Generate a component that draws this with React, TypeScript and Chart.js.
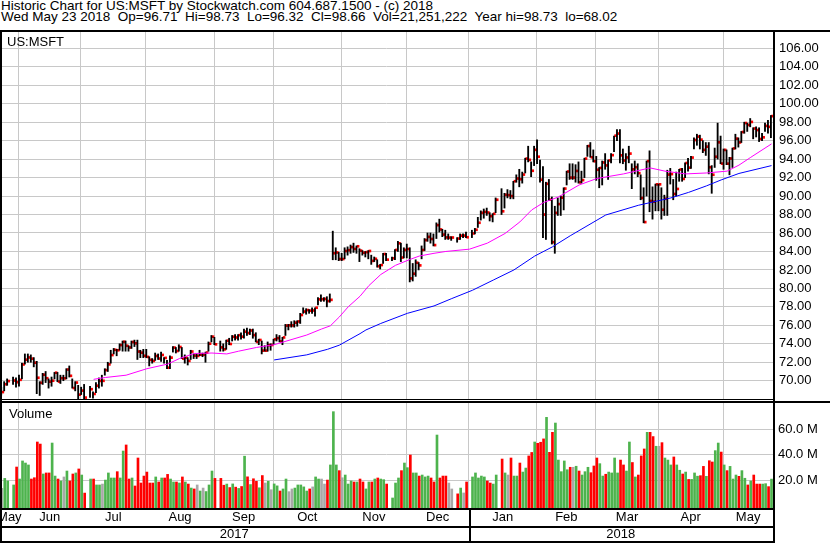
import React, { useEffect, useRef } from 'react';
import { Chart, registerables } from 'chart.js';

Chart.register(...registerables);

// ---------- data (index = weekday since Wed 24 May 2017; null = exchange holiday) ----------
const MONTH_LABELS = ['May', 'Jun', 'Jul', 'Aug', 'Sep', 'Oct', 'Nov', 'Dec', 'Jan', 'Feb', 'Mar', 'Apr', 'May'];
const MONTH_START = [6, 27, 49, 72, 92, 115, 137, 158, 181, 201, 222, 244];
const YEAR_LABELS = ['2017', '2018'];
const YEAR_START = [158];
const PRICE_TICKS = [70, 72, 74, 76, 78, 80, 82, 84, 86, 88, 90, 92, 94, 96, 98, 100, 102, 104, 106];
const VOLUME_TICKS = [20, 40, 60];

const CLOSE = [
  68.77, 69.62, 69.96, null, 70.02, 69.84,
  70.10, 71.76, 72.28, 72.52, 72.39, 71.95, 70.32, 69.78, 70.65, 70.27, 69.90, 70.00, 70.87, 69.91, 70.27, 70.26, 71.21, 70.53, 69.21, 69.80, 68.49, 68.93,
  68.17, null, 69.08, 68.57, 69.46, 69.98, 69.99, 71.15, 71.77, 72.78, 73.35, 73.30, 73.86, 74.22, 73.79, 73.60, 74.19, 74.05, 73.16, 73.04, 72.70,
  72.58, 72.26, 72.15, 72.68, 72.40, 72.79, 72.47, 71.41, 72.50, 73.59, 73.22, 73.65, 72.40, 72.49, 72.15, 73.16, 72.72, 72.69, 72.82, 72.83, 73.05, 74.01, 74.77,
  73.94, null, 73.61, 73.40, 74.34, 73.98, 74.76, 74.68, 74.93, 74.77, 75.31, 75.16, 75.44, 74.94, 74.21, 74.41, 73.26, 73.26, 73.85, 73.87, 74.49,
  74.61, 74.26, 74.69, 75.97, 76.00, 75.99, 76.29, 76.42, 77.12, 77.49, 77.65, 77.59, 77.61, 77.91, 78.81, 78.83, 78.86, 78.63, 78.76, 83.81, 83.89, 83.18,
  83.18, 84.05, 84.14, 84.47, 84.27, 84.56, 84.09, 83.87, 83.93, 84.05, 82.98, 83.20, 82.40, 82.53, 83.72, 83.11, null, 83.26, 84.17, 84.88, 83.34, 84.17,
  84.26, 81.08, 81.59, 82.78, 82.49, 84.16, 85.23, 85.58, 85.35, 84.69, 86.85, 86.38, 85.83, 85.52, 85.50, 85.51, null, 85.40, 85.71, 85.72, 85.54,
  null, 85.95, 86.35, 87.11, 88.19, 88.28, 88.22, 87.82, 88.08, 89.60, null, 88.35, 90.14, 90.10, 90.00, 91.61, 91.90, 91.82, 92.33, 94.06, 93.92, 92.74, 95.01,
  94.26, 91.78, 88.00, 91.33, 89.61, 85.01, 88.18, 89.13, 89.83, 90.81, 92.66, 92.00, 92.00, 92.72, 91.49, 91.73, 94.06, 95.42, 94.20, 93.77,
  92.85, 93.05, 93.64, 93.32, 93.86, 94.43, 96.54, 96.77, 94.41, 93.85, 94.18, 94.60, 92.89, 93.13, 92.48, 89.79, 87.18, 93.78, 89.47, 89.39, 91.27, 91.27,
  88.52, 89.71, 92.33, 92.38, 90.23, 90.77, 92.88, 91.86, 93.58, 93.08, 94.17, 96.07, 96.44, 96.11, 95.00, 95.35, 93.12, 92.31, 94.26, 95.82, 93.52,
  95.00, 93.51, 94.07, 95.16, 96.22, 95.81, 96.94, 97.91, 97.70, 98.03, 97.32, 97.15, 96.18, 96.36, 97.60, 97.50, 98.66,
];

const HIGH = [
  69.30, 69.90, 70.20, null, 70.40, 70.30,
  70.60, 71.90, 72.90, 72.90, 72.80, 72.50, 72.10, 69.90, 70.80, 71.00, 70.20, 70.40, 70.90, 70.90, 70.60, 70.60, 71.30, 71.60, 70.20, 69.90, 69.50, 69.30,
  69.60, null, 69.40, 68.80, 69.80, 70.30, 70.60, 71.30, 72.00, 73.30, 73.50, 73.40, 74.00, 74.30, 74.30, 73.80, 74.30, 74.40, 74.40, 73.30, 73.40,
  73.40, 72.60, 72.40, 73.00, 72.90, 73.10, 72.50, 72.20, 72.70, 73.70, 73.60, 73.90, 73.60, 72.80, 72.50, 73.30, 72.90, 72.90, 73.30, 73.00, 73.10, 74.20, 74.90,
  74.70, null, 74.30, 74.00, 74.40, 74.60, 74.90, 75.00, 75.00, 75.20, 75.60, 75.70, 75.60, 75.60, 75.20, 74.50, 74.30, 73.80, 74.20, 74.00, 74.50,
  75.00, 74.90, 74.70, 76.10, 76.10, 76.40, 76.50, 76.50, 77.30, 77.90, 77.80, 77.70, 77.90, 77.90, 79.00, 79.30, 79.00, 79.10, 79.40, 86.20, 84.40, 83.90,
  83.80, 84.40, 84.50, 84.70, 84.90, 84.60, 84.30, 84.10, 84.00, 84.10, 83.60, 83.40, 83.10, 82.60, 83.80, 83.80, null, 83.40, 84.20, 85.10, 84.90, 84.40,
  84.80, 84.40, 82.70, 83.10, 82.80, 84.60, 85.40, 86.00, 86.00, 85.90, 87.10, 87.50, 86.40, 86.30, 85.90, 85.60, null, 85.50, 85.90, 85.90, 86.10,
  null, 86.30, 86.50, 87.70, 88.40, 88.60, 88.70, 88.20, 88.10, 89.80, null, 90.80, 90.30, 90.70, 90.60, 91.60, 92.30, 92.90, 92.60, 94.10, 95.40, 93.70, 95.40,
  96.10, 93.90, 93.20, 91.50, 91.80, 89.90, 88.90, 89.80, 90.00, 90.90, 92.70, 93.50, 93.50, 93.40, 93.70, 92.70, 94.10, 95.50, 95.80, 95.00,
  94.30, 93.10, 93.80, 94.60, 93.90, 94.60, 96.50, 97.20, 97.20, 95.10, 94.60, 95.40, 93.50, 93.80, 93.50, 92.30, 90.90, 93.80, 94.90, 91.00, 91.30, 91.30,
  90.90, 90.10, 92.80, 93.00, 91.80, 92.60, 92.90, 93.00, 93.60, 94.10, 94.30, 96.30, 96.70, 96.60, 96.00, 95.80, 95.80, 93.30, 95.20, 97.90, 96.50,
  95.10, 95.00, 94.20, 95.20, 96.70, 96.30, 97.00, 98.00, 97.90, 98.40, 97.40, 97.50, 97.40, 96.80, 97.90, 98.20, 98.73,
];

const LOW = [
  68.45, 68.90, 69.50, null, 69.60, 69.30,
  69.40, 70.20, 71.80, 72.00, 72.00, 71.50, 68.60, 68.40, 69.60, 69.80, 69.20, 69.40, 70.20, 69.90, 69.70, 70.00, 70.20, 70.40, 69.20, 68.90, 68.00, 68.50,
  68.00, null, 68.20, 68.10, 68.70, 69.20, 69.40, 70.60, 71.00, 71.90, 72.90, 72.70, 73.30, 73.20, 73.20, 73.20, 73.50, 73.70, 72.30, 72.50, 72.50,
  72.50, 71.60, 71.90, 72.20, 72.30, 72.10, 71.90, 71.30, 71.30, 73.10, 73.00, 73.20, 72.40, 71.90, 71.70, 72.30, 72.40, 72.40, 72.70, 72.60, 72.00, 73.20, 74.20,
  73.90, null, 73.20, 73.20, 73.40, 73.90, 74.30, 74.40, 74.40, 74.50, 74.60, 74.90, 75.00, 74.60, 74.20, 73.90, 72.90, 73.20, 73.20, 73.30, 73.90,
  74.30, 74.20, 73.90, 74.90, 75.50, 75.80, 75.80, 75.90, 76.20, 77.30, 77.20, 77.30, 77.30, 77.00, 78.20, 78.60, 78.60, 78.00, 78.50, 83.10, 83.10, 83.00,
  83.00, 83.20, 83.60, 83.80, 83.90, 83.80, 82.90, 83.60, 83.40, 83.20, 82.60, 82.90, 82.30, 82.10, 82.70, 83.00, null, 83.00, 83.10, 84.00, 82.90, 83.30,
  83.30, 80.70, 80.80, 81.30, 82.00, 83.20, 84.10, 85.10, 84.90, 84.60, 85.40, 86.10, 85.60, 85.30, 85.30, 85.20, null, 85.00, 85.30, 85.50, 85.50,
  null, 85.50, 85.90, 86.60, 87.40, 87.60, 87.90, 87.30, 87.20, 88.20, null, 88.00, 88.70, 89.80, 89.70, 89.70, 91.50, 91.00, 91.40, 92.50, 93.70, 92.10, 93.30,
  93.50, 91.50, 85.50, 85.30, 89.50, 84.80, 83.80, 87.90, 87.90, 88.50, 91.20, 91.80, 91.80, 91.50, 91.40, 91.40, 92.00, 94.30, 94.20, 93.70,
  91.70, 90.90, 91.20, 92.90, 91.80, 93.60, 94.80, 96.00, 93.60, 93.50, 92.80, 93.60, 90.80, 92.40, 92.10, 89.60, 87.10, 90.00, 88.30, 87.50, 88.40, 88.40,
  87.50, 87.90, 87.90, 91.30, 89.60, 90.00, 91.60, 91.60, 92.00, 92.70, 93.00, 95.10, 95.50, 95.10, 94.70, 94.40, 92.40, 90.30, 93.10, 94.00, 93.50,
  92.90, 93.40, 92.30, 93.10, 95.10, 95.30, 95.80, 96.80, 97.00, 97.50, 96.20, 96.40, 95.90, 96.00, 97.00, 96.80, 96.32,
];

// millions of shares
const VOLUME = [
  14.1, 21.8, 19.8, null, 16.7, 30.6,
  21.3, 35.3, 33.7, 32.2, 21.3, 22.3, 50.0, 48.4, 25.2, 26.0, 26.0, 49.2, 23.6, 21.3, 19.8, 22.9, 27.5, 19.8, 25.2, 26.0, 29.1, 24.4,
  10.4, null, 21.3, 21.3, 16.7, 16.7, 17.4, 20.5, 26.0, 22.1, 22.1, 27.0, 22.1, 43.0, 47.7, 21.3, 22.1, 15.9, 37.6, 18.2, 23.6,
  26.7, 18.2, 18.2, 22.9, 19.0, 22.1, 22.1, 24.9, 21.3, 19.0, 19.0, 18.2, 22.9, 19.0, 17.4, 14.3, 13.6, 16.7, 12.0, 14.3, 11.6, 16.7, 27.5,
  21.8, null, 21.8, 16.5, 17.4, 14.7, 17.5, 15.0, 14.0, 15.5, 39.0, 23.0, 17.0, 21.5, 19.5, 14.5, 24.0, 18.2, 19.5, 13.0, 17.5,
  16.0, 12.0, 13.6, 21.3, 11.5, 13.6, 14.3, 16.7, 16.7, 15.2, 12.0, 13.6, 15.2, 22.9, 21.3, 21.3, 17.4, 20.5, 32.2, 73.5, 32.2, 27.8,
  22.3, 24.4, 17.4, 19.8, 19.0, 19.0, 21.3, 19.0, 13.6, 19.0, 19.0, 21.3, 22.1, 21.3, 20.8, 17.4, null, 6.6, 18.2, 22.1, 27.8, 33.7,
  30.1, 39.9, 26.0, 26.0, 23.6, 24.4, 22.9, 23.6, 22.1, 19.0, 55.4, 22.1, 23.6, 23.6, 18.2, 13.6, null, 9.8, 14.3, 10.5, 19.0,
  null, 22.9, 26.0, 22.1, 23.6, 22.9, 19.8, 18.2, 17.4, 24.4, null, 36.8, 26.0, 24.4, 37.6, 23.6, 23.6, 33.7, 26.7, 29.8, 39.2, 41.9, 50.0,
  49.0, 49.8, 52.4, 69.1, 42.0, 57.5, 64.7, 36.0, 27.0, 35.3, 28.5, 30.4, 30.4, 31.2, 27.5, 24.4, 27.0, 30.4, 26.2, 31.4,
  37.6, 33.2, 23.6, 25.0, 26.7, 26.0, 37.6, 26.0, 36.0, 32.2, 27.5, 50.0, 34.1, 22.9, 24.4, 39.2, 44.6, 57.5, 57.5, 54.2, 46.7, 46.7,
  49.5, 37.6, 36.0, 32.2, 38.4, 32.2, 28.1, 25.2, 26.7, 21.0, 21.0, 26.0, 23.5, 23.9, 31.1, 23.4, 35.5, 34.5, 43.3, 49.2, 42.2,
  32.2, 27.8, 31.1, 21.3, 24.4, 23.4, 27.8, 21.9, 16.7, 19.8, 24.4, 17.4, 17.4, 17.4, 17.7, 15.4, 21.25,
];

// moving averages: [weekday index, price]
const MA_SHORT = [
  [31, 70.15], [35, 70.35], [42, 70.6], [49, 71.3], [56, 71.8], [60, 72.4], [65, 72.95], [71, 73.0], [76, 72.9],
  [80, 73.2], [86, 73.6], [92, 73.9], [103, 74.95], [108, 75.6], [111, 75.95], [114, 76.9], [117, 78.0], [121, 79.15],
  [124, 80.3], [128, 81.5], [133, 82.5], [138, 83.15], [141, 83.5], [146, 83.8], [150, 84.0], [158, 84.25], [164, 84.9],
  [170, 85.95], [175, 87.2], [179, 88.5], [183, 89.3], [188, 89.9], [195, 91.2], [201, 91.9], [210, 92.4], [219, 93.05],
  [224, 92.7], [231, 92.4], [238, 92.5], [245, 92.7], [249, 93.35], [253, 94.2], [260, 95.65],
];
const MA_LONG = [
  [92, 72.25], [103, 72.8], [110, 73.4], [114, 73.85], [121, 75.1], [123, 75.5], [128, 76.2], [137, 77.3], [146, 78.1],
  [152, 78.9], [159, 79.8], [166, 80.9], [173, 82.0], [180, 83.5], [186, 84.5], [192, 85.7], [204, 87.95], [215, 89.0],
  [226, 89.8], [232, 90.4], [238, 91.1], [243, 91.75], [249, 92.45], [260, 93.3],
];

// ---------- styling / geometry ----------
const FAMILY = "'Liberation Sans', Arial, Helvetica, sans-serif";
const FONT = { family: FAMILY, size: 13 };
const GRID = '#c8c8c8';
const UP = '#4db34d';
const DOWN = '#ff0000';
const FLAT = '#a8a8a8';
const X_MIN = -0.61;
const X_MAX = 260.5;
const GRID_SHIFT = -0.3;
const P_MIN = 68.02;
const P_MAX = 107.77;
const V_MIN = -1.16;
const V_MAX = 81.0;
const AXIS_W = 57;

function volColor(i: number) {
  const c = CLOSE[i];
  let p: number | null = null;
  for (let j = i - 1; j >= 0; j--) if (CLOSE[j] != null) { p = CLOSE[j] as number; break; }
  if (c == null || p == null) return FLAT;
  const d = (c as number) - p;
  if (Math.abs(d) < 0.045) return FLAT;
  return d > 0 ? UP : DOWN;
}

function midpoints(bounds: number[]) {
  const out: number[] = [];
  for (let i = 0; i < bounds.length - 1; i++) out.push((bounds[i] + bounds[i + 1]) / 2);
  return out;
}

function noPad(s: any) {
  s.paddingLeft = 0;
  s.paddingRight = 0;
  s.paddingTop = 0;
  s.paddingBottom = 0;
}

const baseOptions = {
  animation: false,
  responsive: false,
  maintainAspectRatio: false,
  devicePixelRatio: 1,
  events: [],
  layout: { padding: 0, autoPadding: false },
  plugins: { legend: { display: false }, tooltip: { enabled: false }, title: { display: false } },
};

function PriceChart() {
  const ref = useRef<HTMLCanvasElement>(null);
  useEffect(() => {
    const idx = CLOSE.map((c, i) => i).filter((i) => CLOSE[i] != null);
    const chart = new Chart(ref.current as HTMLCanvasElement, {
      type: 'bar',
      data: {
        datasets: [
          {
            type: 'line', label: 'MA short', order: 0,
            data: MA_SHORT.map(([x, y]) => ({ x, y })),
            borderColor: '#ff00ff', borderWidth: 1, pointRadius: 0, tension: 0, fill: false,
          },
          {
            type: 'line', label: 'MA long', order: 0,
            data: MA_LONG.map(([x, y]) => ({ x, y })),
            borderColor: '#0000ff', borderWidth: 1, pointRadius: 0, tension: 0, fill: false,
          },
          {
            type: 'bar', label: 'range', order: 1,
            data: idx.map((i) => ({ x: i, y: [LOW[i], HIGH[i]] })),
            backgroundColor: '#000000', barThickness: 1.2,
          },
          {
            type: 'bar', label: 'close', order: 2,
            data: idx.map((i) => ({ x: i, y: [(CLOSE[i] as number) - 0.11, (CLOSE[i] as number) + 0.11] })),
            backgroundColor: '#ff0000', barThickness: 2,
          },
        ],
      } as any,
      options: {
        ...baseOptions,
        scales: {
          x: {
            type: 'linear', min: X_MIN, max: X_MAX, offset: false,
            grid: { color: GRID, lineWidth: 1, drawTicks: false, offset: false },
            border: { display: false },
            ticks: { display: false },
            afterBuildTicks: (s: any) => { s.ticks = MONTH_START.map((v) => ({ value: v + GRID_SHIFT })); },
            afterFit: (s: any) => { s.height = 0; noPad(s); },
          },
          y: {
            type: 'linear', position: 'right', min: P_MIN, max: P_MAX,
            grid: { color: GRID, lineWidth: 1, drawTicks: false },
            border: { display: false },
            ticks: { padding: 6, color: '#000', font: FONT, callback: (v: any) => Number(v).toFixed(2) },
            afterBuildTicks: (s: any) => { s.ticks = PRICE_TICKS.map((v) => ({ value: v })); },
            afterFit: (s: any) => { s.width = AXIS_W; noPad(s); },
          },
        },
      } as any,
    });
    return () => chart.destroy();
  }, []);
  return <canvas ref={ref} width={830} height={367} style={{ position: 'absolute', left: 0, top: 32 }} />;
}

function VolumeChart() {
  const ref = useRef<HTMLCanvasElement>(null);
  useEffect(() => {
    const idx = VOLUME.map((v, i) => i).filter((i) => VOLUME[i] != null);
    const bounds = [X_MIN, ...MONTH_START.map((v) => v + GRID_SHIFT), X_MAX];
    const monthCenters = midpoints(bounds);
    const yearCenters = midpoints([X_MIN, ...YEAR_START.map((v) => v + GRID_SHIFT), X_MAX]);
    const chart = new Chart(ref.current as HTMLCanvasElement, {
      type: 'bar',
      data: {
        datasets: [
          {
            type: 'bar', label: 'Volume',
            data: idx.map((i) => ({ x: i, y: VOLUME[i] })),
            backgroundColor: idx.map((i) => volColor(i)),
            barThickness: 2, grouped: false, base: V_MIN,
          },
        ],
      } as any,
      options: {
        ...baseOptions,
        scales: {
          x: {
            type: 'linear', position: 'bottom', weight: 0, min: X_MIN, max: X_MAX, offset: false,
            grid: {
              color: (ctx: any) => (ctx.tick && ctx.tick.kind === 'grid' ? GRID : 'rgba(0,0,0,0)'),
              lineWidth: 1, drawTicks: false, offset: false,
            },
            border: { display: false },
            ticks: {
              autoSkip: false, maxRotation: 0, minRotation: 0, padding: 2, color: '#000', font: FONT,
              callback: (v: any, i: number, ticks: any[]) => (ticks[i] && ticks[i].text) || '',
            },
            afterBuildTicks: (s: any) => {
              s.ticks = [
                ...MONTH_START.map((v) => ({ value: v + GRID_SHIFT, kind: 'grid', text: '' })),
                ...monthCenters.map((v, k) => ({ value: v, kind: 'label', text: MONTH_LABELS[k] })),
              ];
            },
            afterFit: (s: any) => { s.height = 18; noPad(s); },
          },
          x2: {
            type: 'linear', position: 'bottom', weight: 1, min: X_MIN, max: X_MAX, offset: false,
            grid: { display: false, drawTicks: false, offset: false },
            border: { display: false },
            ticks: {
              autoSkip: false, maxRotation: 0, minRotation: 0, padding: 1, color: '#000', font: FONT,
              callback: (v: any, i: number, ticks: any[]) => (ticks[i] && ticks[i].text) || '',
            },
            afterBuildTicks: (s: any) => {
              s.ticks = yearCenters.map((v, k) => ({ value: v, text: YEAR_LABELS[k] }));
            },
            afterFit: (s: any) => { s.height = 17; noPad(s); },
          },
          y: {
            type: 'linear', position: 'right', min: V_MIN, max: V_MAX,
            grid: { color: GRID, lineWidth: 1, drawTicks: false },
            border: { display: false },
            ticks: { padding: 5, color: '#000', font: FONT, callback: (v: any) => `${Number(v).toFixed(1)} M` },
            afterBuildTicks: (s: any) => { s.ticks = VOLUME_TICKS.map((v) => ({ value: v })); },
            afterFit: (s: any) => { s.width = AXIS_W; noPad(s); },
          },
        },
      } as any,
    });
    return () => chart.destroy();
  }, []);
  return <canvas ref={ref} width={830} height={141} style={{ position: 'absolute', left: 0, top: 402 }} />;
}

function Line({ x, y, w, h }: { x: number; y: number; w: number; h: number }) {
  return <div style={{ position: 'absolute', left: x, top: y, width: w, height: h, background: '#000' }} />;
}

export default function App() {
  const text: React.CSSProperties = { position: 'absolute', whiteSpace: 'pre', fontFamily: FAMILY, color: '#000' };
  return (
    <div style={{ position: 'absolute', left: 0, top: 0, width: 830, height: 543, background: '#fff', overflow: 'hidden' }}>
      <div style={{ ...text, left: 1, top: -1.5, fontSize: 13.5, lineHeight: '13.5px' }}>
        Historic Chart for US:MSFT by Stockwatch.com 604.687.1500 - (c) 2018
      </div>
      <div style={{ ...text, left: 1, top: 9.5, fontSize: 13.5, lineHeight: '13.5px' }}>
        {'Wed May 23 2018  Op=96.71  Hi=98.73  Lo=96.32  Cl=98.66  Vol=21,251,222  Year hi=98.73  lo=68.02'}
      </div>
      <PriceChart />
      <VolumeChart />
      <div style={{ ...text, left: 7, top: 35, fontSize: 13, lineHeight: '13px' }}>US:MSFT</div>
      <div style={{ ...text, left: 9, top: 406.5, fontSize: 13, lineHeight: '13px' }}>Volume</div>
      <Line x={0} y={30} w={830} h={2} />
      <Line x={0} y={30} w={2} h={513} />
      <Line x={773} y={30} w={2} h={513} />
      <Line x={0} y={399} w={773} h={1} />
      <Line x={0} y={401} w={830} h={2} />
      <Line x={0} y={508} w={775} h={2} />
      <Line x={0} y={526} w={775} h={2} />
      <Line x={0} y={541} w={775} h={2} />
      <Line x={469} y={508} w={2} h={35} />
    </div>
  );
}
